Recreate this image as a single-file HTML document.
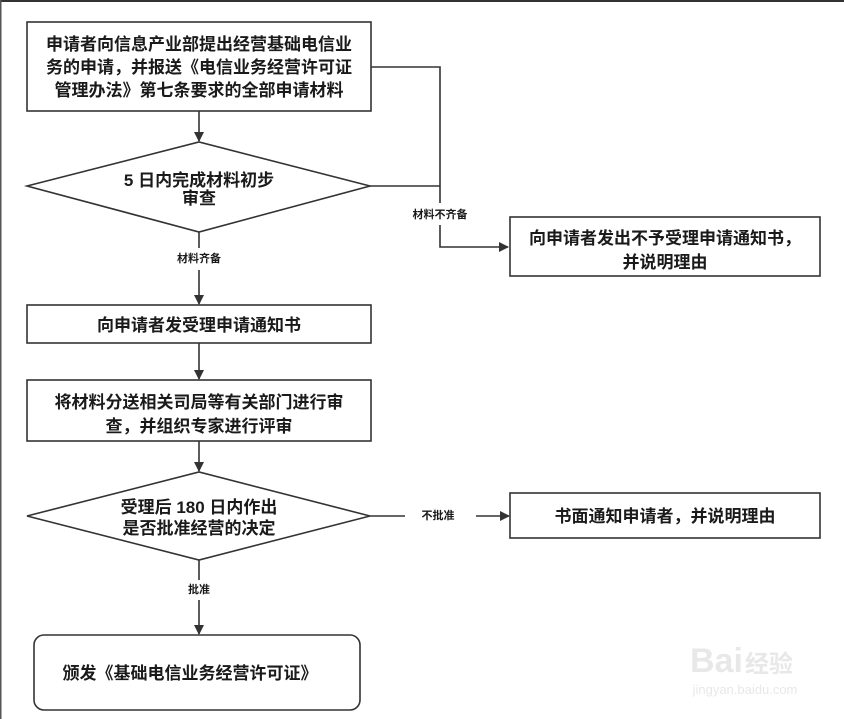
<!DOCTYPE html>
<html><head><meta charset="utf-8"><style>
html,body{margin:0;padding:0;background:#fff;}
svg{display:block;}
text{font-family:"Liberation Sans","Noto Sans CJK SC","WenQuanYi Zen Hei",sans-serif;fill:#1a1a1a;}
</style></head><body>
<svg width="844" height="719" viewBox="0 0 844 719" xmlns="http://www.w3.org/2000/svg">
<defs><marker id="a" markerWidth="10" markerHeight="10" refX="9" refY="5" orient="auto" markerUnits="userSpaceOnUse"><path d="M0,0 L10,5 L0,10 z" fill="#333"/></marker></defs>
<rect x="0" y="0" width="844" height="719" fill="#fff"/>
<rect x="0" y="0" width="844" height="2" fill="#333"/>
<rect x="0" y="0" width="1.5" height="719" fill="#555"/>
<g stroke="#333" stroke-width="1.6" fill="none">
<rect x="27" y="22" width="344" height="89"/>
<polygon points="27,186 199,142 370,186 199,232"/>
<rect x="510" y="217" width="310" height="59"/>
<rect x="27" y="305" width="344" height="38"/>
<rect x="27" y="380" width="344" height="61"/>
<polygon points="27,516 199,472 370,516 199,560"/>
<rect x="510" y="493" width="310" height="45"/>
<rect x="34" y="635" width="326" height="75" rx="10"/>
<line x1="199" y1="111" x2="199" y2="141" marker-end="url(#a)"/>
<polyline points="371,67 440,67 440,203"/>
<line x1="370" y1="186" x2="440" y2="186"/>
<polyline points="440,225 440,247 508,247" marker-end="url(#a)"/>
<line x1="199" y1="232" x2="199" y2="248"/>
<line x1="199" y1="270" x2="199" y2="304" marker-end="url(#a)"/>
<line x1="199" y1="343" x2="199" y2="379" marker-end="url(#a)"/>
<line x1="199" y1="441" x2="199" y2="471" marker-end="url(#a)"/>
<line x1="370" y1="516" x2="405" y2="516"/>
<line x1="476" y1="516" x2="509" y2="516" marker-end="url(#a)"/>
<line x1="199" y1="560" x2="199" y2="580"/>
<line x1="199" y1="600" x2="199" y2="634" marker-end="url(#a)"/>
</g>
<g font-size="17" font-weight="600" text-anchor="middle">
<text x="199" y="50">申请者向信息产业部提出经营基础电信业</text>
<text x="199" y="73">务的申请，并报送《电信业务经营许可证</text>
<text x="199" y="96">管理办法》第七条要求的全部申请材料</text>
<text x="199" y="186">5 日内完成材料初步</text>
<text x="199" y="204">审查</text>
<text x="665" y="244">向申请者发出不予受理申请通知书，</text>
<text x="665" y="268">并说明理由</text>
<text x="199" y="331">向申请者发受理申请通知书</text>
<text x="199" y="408">将材料分送相关司局等有关部门进行审</text>
<text x="199" y="432">查，并组织专家进行评审</text>
<text x="199" y="513">受理后 180 日内作出</text>
<text x="199" y="534">是否批准经营的决定</text>
<text x="665" y="522">书面通知申请者，并说明理由</text>
<text x="190" y="679">颁发《基础电信业务经营许可证》</text>
</g>
<g font-size="11" font-weight="bold" text-anchor="middle">
<text x="440" y="218">材料不齐备</text>
<text x="199" y="262">材料齐备</text>
<text x="438" y="519">不批准</text>
<text x="199" y="593">批准</text>
</g>
<g stroke="none">
<text x="690" y="672" font-size="34" style="fill:#e8e8e8;font-weight:bold">Bai</text>
<text x="745" y="672" font-size="24" style="fill:#e8e8e8;font-weight:bold">经验</text>
<text x="745" y="694" font-size="13" text-anchor="middle" style="fill:#e8e8e8">jingyan.baidu.com</text>
</g>
</svg>
</body></html>
